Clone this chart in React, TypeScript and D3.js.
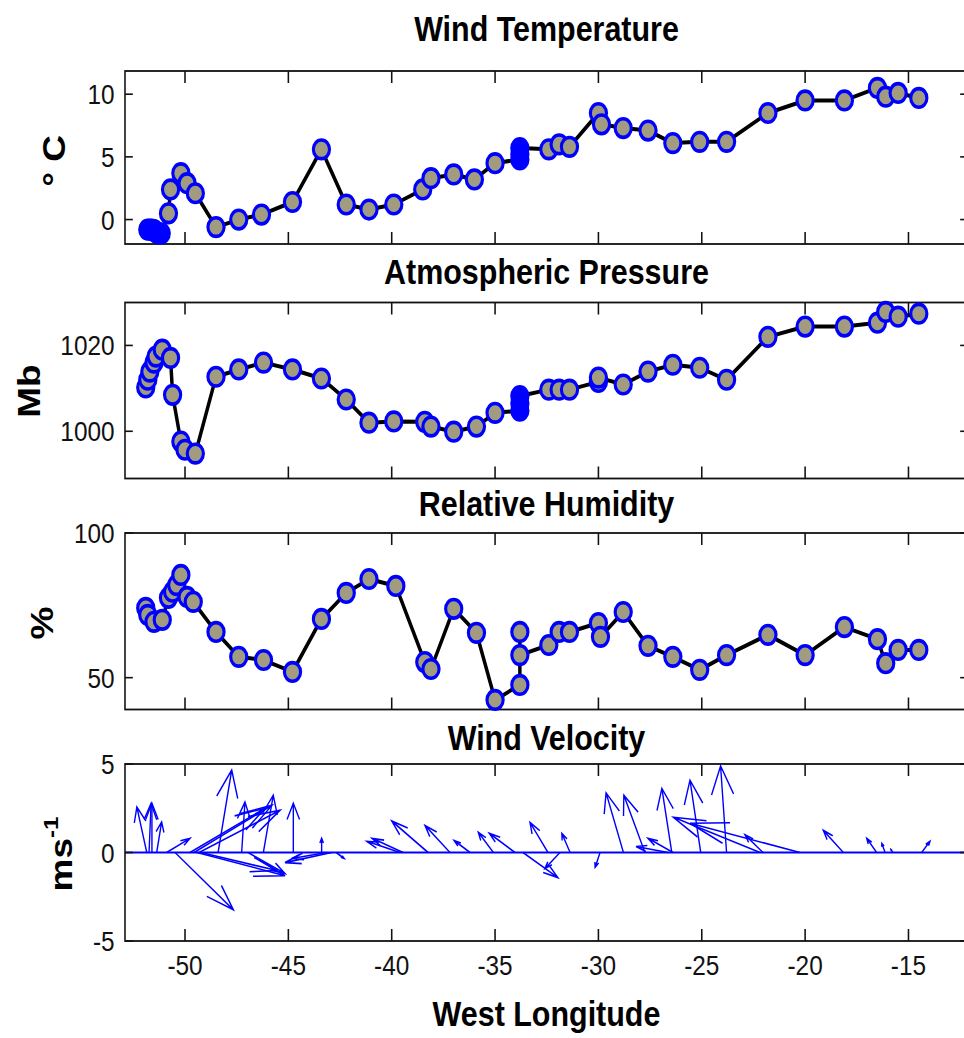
import React from 'react';
import * as d3 from 'd3';

// ---------- data ----------
const lonTicks = [-50, -45, -40, -35, -30, -25, -20, -15];

const tempLon = [-51.8, -51.7, -51.6, -51.5, -51.4, -51.3, -51.15, -50.8, -50.7, -50.2, -49.9, -49.5, -48.5, -47.4, -46.3, -44.8, -43.4, -42.2, -41.1, -39.9, -38.5, -38.1, -37.0, -36.0, -35.0, -33.8, -33.8, -33.8, -32.4, -31.9, -31.4, -30.0, -29.85, -28.8, -27.6, -26.4, -25.1, -23.8, -21.8, -20.0, -18.1, -16.5, -16.1, -15.5, -14.5];
const tempVal = [-0.8, -0.8, -0.8, -0.85, -1.0, -1.1, -1.1, 0.5, 2.4, 3.7, 2.9, 2.1, -0.6, 0.0, 0.4, 1.4, 5.6, 1.2, 0.8, 1.2, 2.4, 3.3, 3.6, 3.2, 4.5, 4.8, 5.2, 5.7, 5.6, 6.0, 5.8, 8.5, 7.6, 7.3, 7.1, 6.1, 6.2, 6.2, 8.5, 9.5, 9.5, 10.5, 9.8, 10.1, 9.7];
const tempCrowded = [0, 1, 2, 3, 4, 5, 6, 25, 26, 27];

const pressLon = [-51.9, -51.8, -51.7, -51.5, -51.4, -51.1, -50.7, -50.6, -50.2, -50.0, -49.5, -48.5, -47.4, -46.2, -44.8, -43.4, -42.2, -41.1, -39.9, -38.4, -38.1, -37.0, -35.9, -35.0, -33.8, -33.8, -33.8, -32.4, -31.9, -31.4, -30.0, -30.0, -28.8, -27.6, -26.4, -25.1, -23.8, -21.8, -20.0, -18.1, -16.5, -16.1, -15.5, -14.5];
const pressVal = [1010.2, 1012, 1013.9, 1016, 1017.4, 1019, 1017.1, 1008.5, 997.6, 995.7, 994.8, 1012.7, 1014.4, 1016, 1014.4, 1012.3, 1007.4, 1002, 1002.3, 1002.2, 1001.1, 999.9, 1001.1, 1004.3, 1004.8, 1006.5, 1008.2, 1009.7, 1009.7, 1009.7, 1011.5, 1012.5, 1010.9, 1013.9, 1015.5, 1014.8, 1012, 1022, 1024.4, 1024.4, 1025.3, 1027.8, 1026.7, 1027.4];
const pressCrowded = [24, 25, 26];

const humLon = [-51.9, -51.8, -51.5, -51.1, -50.8, -50.6, -50.4, -50.2, -49.9, -49.6, -48.5, -47.4, -46.2, -44.8, -43.4, -42.2, -41.1, -39.8, -38.4, -38.1, -37.0, -35.9, -35.0, -33.8, -33.8, -33.8, -32.4, -31.9, -31.4, -30.0, -29.9, -28.8, -27.6, -26.4, -25.1, -23.8, -21.8, -20.0, -18.1, -16.5, -16.1, -15.5, -14.5];
const humVal = [74.1, 71.7, 69.3, 70, 77.6, 79.7, 82, 85.5, 77.9, 76.2, 65.8, 57.2, 56.1, 52, 70.3, 79.3, 84.1, 81.7, 55.4, 53, 73.8, 65.5, 42.3, 47.5, 65.8, 57.8, 61.3, 65.8, 65.8, 68.9, 64.1, 72.7, 61, 57.2, 52.7, 57.8, 64.8, 57.8, 67.5, 63.3, 55, 59.6, 59.6];
const humCrowded: number[] = [];

// wind: base longitude, u (deg of longitude), v (m/s)
const windLon = [-51.85, -51.74, -51.6, -51.37, -50.89, -50.48, -49.76, -49.56, -49.32, -49.42, -49.23, -48.4, -47.26, -46.95, -46.21, -44.76, -43.39, -42.9, -43.13, -42.69, -39.6, -39.45, -38.24, -37.18, -36.21, -35.08, -34.04, -32.44, -31.86, -33.65, -31.37, -29.92, -28.79, -27.75, -26.45, -26.39, -26.63, -25.05, -23.8, -22.18, -20.25, -22.04, -18.15, -16.54, -16.13, -15.75, -14.36];
const windU = [-0.48, 0.1, 0, 0.24, 1.13, 2.82, 3.63, 3.77, 3.92, 4.26, 3.68, 0.66, 0.16, 1.79, 0.48, 0, 0, -2.26, -1.71, 0.39, -1.6, -1.5, -1.76, -1.21, -0.77, -0.73, -1.24, -0.87, -0.73, 1.69, -0.4, -0.24, -0.84, -1.02, -0.48, -1.21, -1.55, -0.52, -0.29, -4.19, -5.32, -0.87, -0.97, -0.48, -0.16, -0.1, 0.4];
const windV = [2.57, 2.78, 2.78, 1.73, 0.8, -3.24, 2.5, 2.67, 2.39, -1.31, -1.02, 4.66, 2.85, -1.19, 3.24, 2.78, 0.8, -0.57, -0.34, -0.34, 0.63, 0.8, 1.78, 1.53, 0.68, 1.14, 1.09, 1.7, -0.91, -1.42, 1.08, -0.84, 3.37, 3.24, 3.62, 0.8, 0.34, 4.09, 4.89, 1.99, 1.65, 1.0, 1.25, 0.8, 0.51, 0.17, 0.63];

// ---------- layout ----------
const W = 964;
const H = 1038;
const SX = 0.87; // horizontal squeeze of the original bitmap
const LEFT = 125;
const RIGHT = 968;
const X_DOMAIN: [number, number] = [-52.903, -12.12];
const FONT = "'Liberation Sans', Arial, Helvetica, sans-serif";
const BLUE = '#0000ff';
const FILL = '#a19c80';

type SeriesPanelDef = {
  title: string;
  label: string;
  top: number;
  bottom: number;
  domain: [number, number];
  ticks: number[];
  titleY: number;
  labelX: number;
  labelY: number;
  lon: number[];
  val: number[];
  crowded: number[];
};

const seriesPanels: SeriesPanelDef[] = [
  { title: 'Wind Temperature', label: '° C', top: 71, bottom: 244, domain: [-1.95, 11.85], ticks: [0, 5, 10], titleY: 41, labelX: 65, labelY: 161, lon: tempLon, val: tempVal, crowded: tempCrowded },
  { title: 'Atmospheric Pressure', label: 'Mb', top: 302.5, bottom: 478.5, domain: [989, 1030], ticks: [1000, 1020], titleY: 284, labelX: 40, labelY: 391, lon: pressLon, val: pressVal, crowded: pressCrowded },
  { title: 'Relative Humidity', label: '%', top: 533, bottom: 709.5, domain: [39, 100], ticks: [50, 100], titleY: 516, labelX: 53, labelY: 623, lon: humLon, val: humVal, crowded: humCrowded },
];

const windPanel = { title: 'Wind Velocity', top: 764, bottom: 941, domain: [-5, 5] as [number, number], ticks: [-5, 0, 5], titleY: 750, labelX: 72, labelY: 854 };

function Frame({ x, y, top, bottom, ticks }: any) {
  const x0 = x.range()[0];
  const x1 = x.range()[1];
  return (
    <g>
      <rect x={x0} y={top} width={x1 - x0} height={bottom - top} fill="none" stroke="#111" strokeWidth={1.8} />
      {lonTicks.map((t) => (
        <g key={'xt' + t}>
          <line x1={x(t)} x2={x(t)} y1={top} y2={top + 12} stroke="#111" strokeWidth={1.8} />
          <line x1={x(t)} x2={x(t)} y1={bottom} y2={bottom - 12} stroke="#111" strokeWidth={1.8} />
        </g>
      ))}
      {ticks.map((t: number) => (
        <g key={'yt' + t}>
          <line x1={x0} x2={x0 + 9} y1={y(t)} y2={y(t)} stroke="#111" strokeWidth={1.6} />
          <line x1={x1} x2={x1 - 9} y1={y(t)} y2={y(t)} stroke="#111" strokeWidth={1.6} />
          <text x={x0 - 12} y={y(t)} dy="0.36em" textAnchor="end" fontSize={28} fill="#111">{String(t)}</text>
        </g>
      ))}
    </g>
  );
}

function SeriesPanel({ p, x }: { p: SeriesPanelDef; x: any }) {
  const y = d3.scaleLinear().domain(p.domain).range([p.bottom, p.top]);
  const idx = d3.range(p.lon.length);
  const line = d3.line<number>().x((i) => x(p.lon[i])).y((i) => y(p.val[i]));
  const crowded = new Set(p.crowded);
  const cx = (x.range()[0] + x.range()[1]) / 2;
  return (
    <g>
      <Frame x={x} y={y} top={p.top} bottom={p.bottom} ticks={p.ticks} />
      <path d={line(idx) || ''} fill="none" stroke="#000" strokeWidth={4} strokeLinejoin="round" />
      {idx.map((i) => (
        <circle key={i} cx={x(p.lon[i])} cy={y(p.val[i])} r={9.3} fill={crowded.has(i) ? BLUE : FILL} stroke={BLUE} strokeWidth={3.6} />
      ))}
      <text x={cx} y={p.titleY} textAnchor="middle" fontSize={35} fontWeight="bold" fill="#000">{p.title}</text>
      <text transform={`translate(${p.labelX / SX},${p.labelY}) rotate(-90)`} textAnchor="middle" fontSize={37} fontWeight="bold" fill="#000">{p.label}</text>
    </g>
  );
}

function WindPanel({ x }: { x: any }) {
  const p = windPanel;
  const y = d3.scaleLinear().domain(p.domain).range([p.bottom, p.top]);
  const alpha = 0.33;
  const beta = 0.33;
  const cx = (x.range()[0] + x.range()[1]) / 2;
  const arrows = windLon.map((lon, i) => {
    const u = windU[i];
    const v = windV[i];
    const tx = lon + u;
    const ty = v;
    const h1x = tx - alpha * (u + beta * v);
    const h1y = ty - alpha * (v - beta * u);
    const h2x = tx - alpha * (u - beta * v);
    const h2y = ty - alpha * (v + beta * u);
    return `M${x(lon)},${y(0)}L${x(tx)},${y(ty)}M${x(h1x)},${y(h1y)}L${x(tx)},${y(ty)}L${x(h2x)},${y(h2y)}`;
  });
  return (
    <g>
      <line x1={x.range()[0]} x2={x.range()[1]} y1={y(0)} y2={y(0)} stroke={BLUE} strokeWidth={2} />
      {arrows.map((d, i) => (
        <path key={i} d={d} fill="none" stroke={BLUE} strokeWidth={1.6} />
      ))}
      <Frame x={x} y={y} top={p.top} bottom={p.bottom} ticks={p.ticks} />
      {lonTicks.map((t) => (
        <text key={'xl' + t} x={x(t)} y={975} textAnchor="middle" fontSize={28} fill="#111">{String(t)}</text>
      ))}
      <text x={cx} y={p.titleY} textAnchor="middle" fontSize={35} fontWeight="bold" fill="#000">{p.title}</text>
      <text transform={`translate(${p.labelX / SX},${p.labelY}) rotate(-90)`} textAnchor="middle" fontSize={37} fontWeight="bold" fill="#000">
        <tspan>ms</tspan>
        <tspan dy={-16} fontSize={24}>-1</tspan>
      </text>
      <text x={cx} y={1026} textAnchor="middle" fontSize={35} fontWeight="bold" fill="#000">West Longitude</text>
    </g>
  );
}

export default function App() {
  const x = d3.scaleLinear().domain(X_DOMAIN).range([LEFT / SX, RIGHT / SX]);
  return (
    <svg width={W} height={H} style={{ position: 'absolute', left: 0, top: 0, background: '#fff' }}>
      <rect x={0} y={0} width={W} height={H} fill="#fff" />
      <g transform={`scale(${SX},1)`} fontFamily={FONT}>
        {seriesPanels.map((p) => (
          <SeriesPanel key={p.title} p={p} x={x} />
        ))}
        <WindPanel x={x} />
      </g>
    </svg>
  );
}
